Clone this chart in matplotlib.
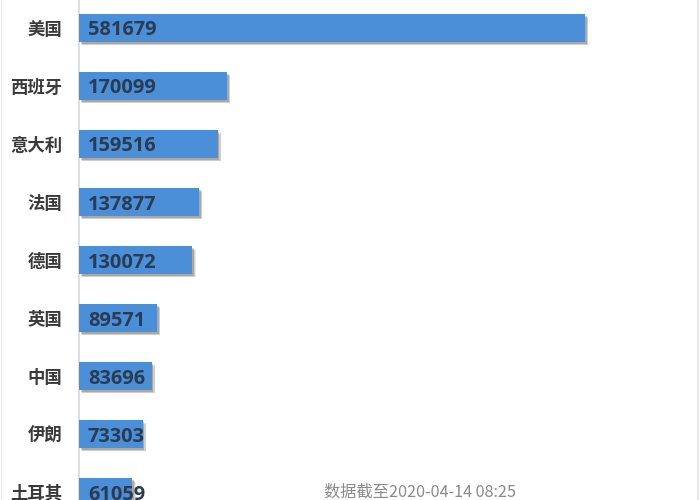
import matplotlib
matplotlib.use("Agg")
import matplotlib.pyplot as plt
import matplotlib.patheffects as pe
from matplotlib.patches import Rectangle

countries = ["美国", "西班牙", "意大利", "法国", "德国", "英国", "中国", "伊朗", "土耳其"]
cases = [581679, 170099, 159516, 137877, 130072, 89571, 83696, 73303, 61059]
footer = "数据截至2020-04-14 08:25"

plt.rcParams['font.family'] = ['Noto Sans CJK SC', 'DejaVu Sans']

W, H = 700, 500
fig = plt.figure(figsize=(W / 100, H / 100), dpi=100)
fig.patch.set_facecolor("white")

ax_left = 79 / W
ax_right = 698 / W
ax = fig.add_axes([ax_left, 0, ax_right - ax_left, 1])

scale_px = 506 / 581679  # px per case
xmax = (698 - 79) / scale_px
ax.set_xlim(0, xmax)
ax.set_ylim((H - 28) / 58, -28 / 58)

y = list(range(len(countries)))
bars = ax.barh(y, cases, height=0.48, color="#4b8fd8", zorder=3)
shadow = [
    pe.SimplePatchShadow(offset=(2.5, -2.5), shadow_rgbFace="#000000", alpha=0.08),
    pe.SimplePatchShadow(offset=(2.0, -2.0), shadow_rgbFace="#000000", alpha=0.12),
    pe.SimplePatchShadow(offset=(1.2, -1.2), shadow_rgbFace="#000000", alpha=0.18),
    pe.Normal(),
]
for b in bars:
    b.set_path_effects(shadow)

for yi, v in zip(y, cases):
    ax.text(9 / scale_px, yi, str(v), ha="left", va="center_baseline", fontsize=14.4,
            fontweight="bold", color="#2a3b52", family=["Open Sans", "DejaVu Sans"], zorder=4)

ax.set_yticks(y)
ax.set_yticklabels(countries, fontsize=12.5, fontweight="bold", color="#3a3a3a")
ax.tick_params(axis="y", length=0, pad=12)
ax.set_xticks([])
for s in ["top", "right", "bottom"]:
    ax.spines[s].set_visible(False)
ax.spines["left"].set_color("#d9d9d9")
ax.spines["left"].set_linewidth(1.2)

fig.text(420 / W, 1 - 492 / H, footer, ha="center", va="center", fontsize=11.7, color="#8a8a8a")

# outer light borders
fig.add_artist(Rectangle((0.5 / W, 0), 1.5 / W, 1, transform=fig.transFigure, color="#e6e6e6", lw=0))
fig.add_artist(Rectangle((697 / W, 0), 2 / W, 1, transform=fig.transFigure, color="#e6e6e6", lw=0))

fig.savefig("out.png", dpi=100)
